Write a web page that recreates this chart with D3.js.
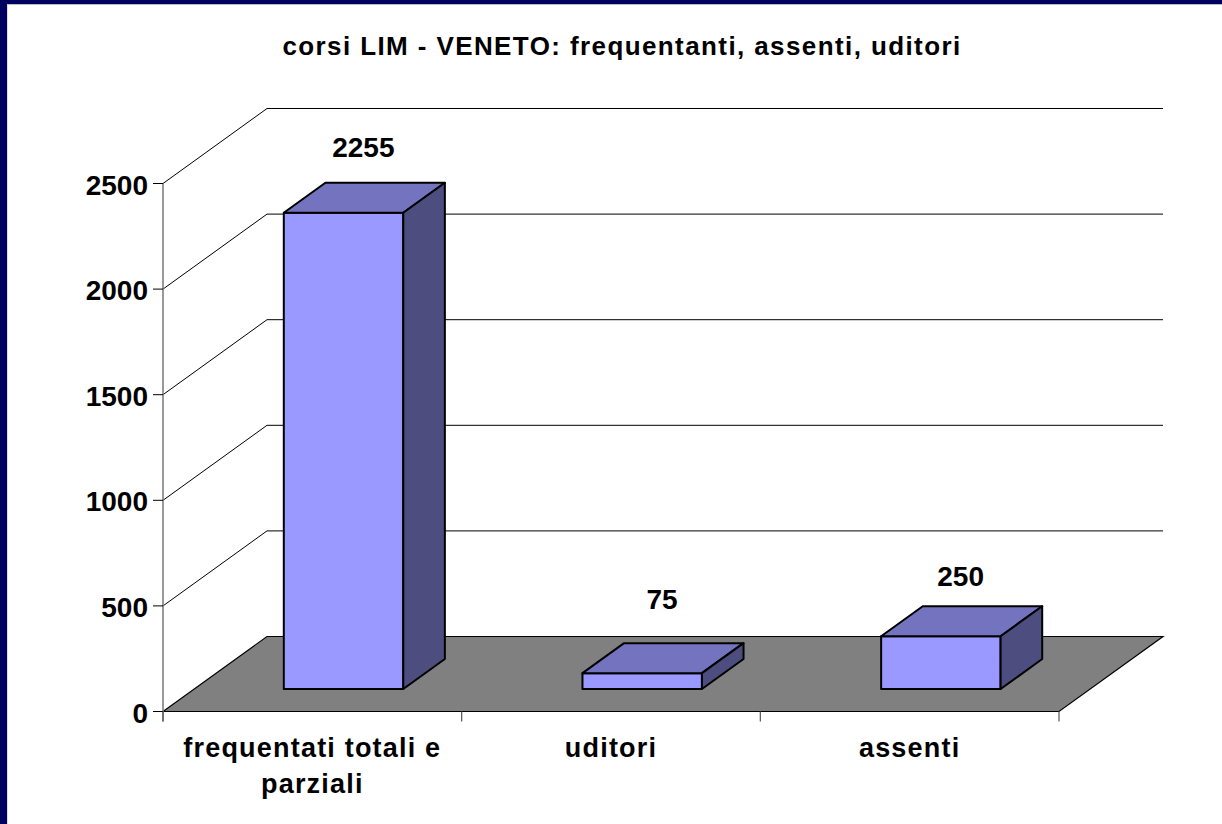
<!DOCTYPE html>
<meta charset="utf-8">
<style>
html, body { margin: 0; padding: 0; background: #fff; }
svg { display: block; }
text { font-family: "Liberation Sans", Arial, sans-serif; font-weight: bold; fill: #000; }
</style>
<body>
<script src="https://cdn.jsdelivr.net/npm/d3@7"></script>
<div id="content"></div>

<script>
var categories = ["frequentati totali e parziali", "uditori", "assenti"];
var values = [2255, 75, 250];
var yTicks = [0, 500, 1000, 1500, 2000, 2500];
var chartTitle = "corsi LIM - VENETO: frequentanti, assenti, uditori";

var width = 1222,
    height = 824;

var svg = d3.select("#content").append("svg")
    .attr("width", width)
    .attr("height", height);

// slide background with its dark frame on the top and left only
svg.append("rect").attr("width", width).attr("height", height).attr("fill", "#000060");
svg.append("rect").attr("x", 7).attr("y", 4).attr("width", width).attr("height", height).attr("fill", "#bbb");
svg.append("rect").attr("x", 7.5).attr("y", 5).attr("width", width).attr("height", height).attr("fill", "#fff");

var x = d3.scaleBand().domain(categories).range([163, 1059]).paddingInner(0.6).paddingOuter(0.3);
// band without padding, for the tick marks and the category labels
var xTicks = d3.scaleBand().domain(categories).range([163, 1059]);
var y = d3.scaleLinear().domain([0, 2500]).range([711.5, 183.5]);
// depth: 0 front of the floor, 1 back wall
var depthX = d3.scaleLinear().domain([0, 1]).range([0, 104]);
var depthY = d3.scaleLinear().domain([0, 1]).range([0, -75]);
var barFront = 0.3,
    barBack = 0.7;

var line = d3.line();
function project(px, value, depth) {
  return [px + depthX(depth), y(value) + depthY(depth)];
}
function poly(points) { return line(points) + "Z"; }

// walls: gridlines on the side wall and the back wall
var grid = svg.append("g").attr("fill", "none").attr("stroke", "#000").attr("stroke-width", 1);
yTicks.forEach(function(t) {
  if (t === 0) return;
  grid.append("path")
      .attr("d", line([project(163, t, 0), project(163, t, 1), project(1059, t, 1)]));
});

// floor
svg.append("path")
    .attr("d", poly([project(163, 0, 0), project(163, 0, 1), project(1059, 0, 1), project(1059, 0, 0)]))
    .attr("fill", "#808080")
    .attr("stroke", "#000")
    .attr("stroke-width", 1.2);

// axes
svg.append("line")
    .attr("x1", 163).attr("x2", 163).attr("y1", y(2500)).attr("y2", y(0) + 10)
    .attr("stroke", "#777").attr("stroke-width", 1.5);

svg.selectAll(".ytick").data(yTicks).enter().append("line")
    .attr("class", "ytick")
    .attr("x1", 153).attr("x2", 163)
    .attr("y1", function(d) { return y(d); })
    .attr("y2", function(d) { return y(d); })
    .attr("stroke", "#000");

svg.selectAll(".ylabel").data(yTicks).enter().append("text")
    .attr("class", "ylabel")
    .attr("x", 148)
    .attr("y", function(d) { return y(d) + 11; })
    .attr("text-anchor", "end")
    .style("font-size", "28px")
    .text(function(d) { return d; });

var xTickPos = categories.map(function(c) { return xTicks(c); }).concat([1059]);
svg.selectAll(".xtick").data(xTickPos).enter().append("line")
    .attr("class", "xtick")
    .attr("x1", function(d) { return d; })
    .attr("x2", function(d) { return d; })
    .attr("y1", y(0)).attr("y2", y(0) + 10)
    .attr("stroke", "#555").attr("stroke-width", 1.2);

// bars
var bars = svg.selectAll(".bar")
    .data(categories.map(function(c, i) { return {name: c, value: values[i]}; }))
    .enter().append("g")
    .attr("class", "bar")
    .attr("stroke", "#000")
    .attr("stroke-width", 2)
    .attr("stroke-linejoin", "round");

bars.append("path").attr("fill", "#9999ff").attr("d", function(d) {
  var l = x(d.name), r = l + x.bandwidth();
  return poly([project(l, 0, barFront), project(r, 0, barFront), project(r, d.value, barFront), project(l, d.value, barFront)]);
});
bars.append("path").attr("fill", "#7373bf").attr("d", function(d) {
  var l = x(d.name), r = l + x.bandwidth();
  return poly([project(l, d.value, barFront), project(r, d.value, barFront), project(r, d.value, barBack), project(l, d.value, barBack)]);
});
bars.append("path").attr("fill", "#4d4d80").attr("d", function(d) {
  var r = x(d.name) + x.bandwidth();
  return poly([project(r, 0, barFront), project(r, 0, barBack), project(r, d.value, barBack), project(r, d.value, barFront)]);
});

// value labels, each sits its own distance above the bar's back edge
var labelGap = [26, 34, 20];
bars.append("text")
    .attr("stroke", "none")
    .attr("text-anchor", "middle")
    .attr("x", function(d) { return x(d.name) + x.bandwidth() / 2 + depthX(0.5) - 1; })
    .attr("y", function(d, i) { return y(d.value) + depthY(barBack) - labelGap[i]; })
    .style("font-size", "28px")
    .text(function(d) { return d.value; });

// category labels, wrapped the way the original wraps them
var wrapped = categories.map(function(c) {
  return c.length > 20 ? [c.slice(0, c.lastIndexOf(" ")), c.slice(c.lastIndexOf(" ") + 1)] : [c];
});
var catLabels = svg.selectAll(".cat").data(categories).enter().append("text")
    .attr("class", "cat")
    .attr("text-anchor", "middle")
    .style("font-size", "27px")
    .style("letter-spacing", "1.2px");
catLabels.selectAll("tspan")
    .data(function(d, i) { return wrapped[i].map(function(t) { return {t: t, c: d}; }); })
    .enter().append("tspan")
    .attr("x", function(d) { return xTicks(d.c) + xTicks.bandwidth() / 2; })
    .attr("y", function(d, i) { return 757 + i * 36; })
    .text(function(d) { return d.t; });

svg.append("text")
    .attr("x", 622)
    .attr("y", 55)
    .attr("text-anchor", "middle")
    .style("font-size", "26px")
    .style("letter-spacing", "1.4px")
    .text(chartTitle);
</script>
